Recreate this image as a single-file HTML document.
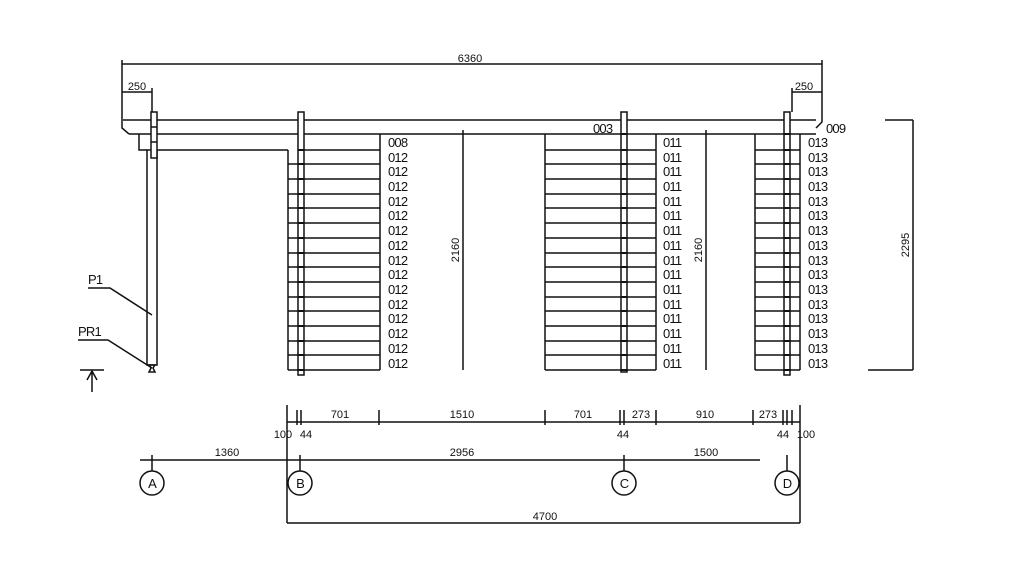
<!DOCTYPE html>
<html><head><meta charset="utf-8"><style>
html,body{margin:0;padding:0;background:#fff;}
svg{display:block}
text{font-family:"Liberation Sans",sans-serif;fill:#111;}
.s{font-size:11px}
.l{font-size:13px;letter-spacing:-0.8px}
</style></head><body>
<svg width="1024" height="576" viewBox="0 0 1024 576" xmlns="http://www.w3.org/2000/svg">
<g stroke="#111" stroke-width="1.5" fill="none">
<path d="M122 64H822M122 60V128L129 134M822 60V122L816 128"/>
<path d="M122 92H152M152 88V112M792 92H822M792 88V112"/>
<path d="M123 120H816M129 134H816M139 134V150H147M157 150H288"/>
<rect x="147" y="150" width="10" height="215"/>
<rect x="151" y="112" width="6" height="46" fill="#fff"/>
<path d="M151 127H157M151 142H157M149 365L155 365L153 368L155 372H149L151 368Z"/>
<path d="M288 150V370M380 134V370M303 150H380M288 164H380M288 179H380M288 194H380M288 208H380M288 223H380M288 238H380M288 253H380M288 267H380M288 282H380M288 297H380M288 311H380M288 326H380M288 341H380M288 355H380M288 370H380"/>
<rect x="298" y="112" width="6" height="263" fill="#fff"/>
<path d="M545 134V370M656 134V370M545 150H656M545 164H656M545 179H656M545 194H656M545 208H656M545 223H656M545 238H656M545 253H656M545 267H656M545 282H656M545 297H656M545 311H656M545 326H656M545 341H656M545 355H656M545 370H656"/>
<rect x="621" y="112" width="6" height="260" fill="#fff"/>
<path d="M755 134V370M800 134V370M755 150H800M755 164H800M755 179H800M755 194H800M755 208H800M755 223H800M755 238H800M755 253H800M755 267H800M755 282H800M755 297H800M755 311H800M755 326H800M755 341H800M755 355H800M755 370H800"/>
<rect x="784" y="112" width="6" height="263" fill="#fff"/>
<path stroke-width="2" d="M298 150H304M298 164H304M298 179H304M298 194H304M298 208H304M298 223H304M298 238H304M298 253H304M298 267H304M298 282H304M298 297H304M298 311H304M298 326H304M298 341H304M298 355H304M298 370H304
M621 134H627M621 150H627M621 164H627M621 179H627M621 194H627M621 208H627M621 223H627M621 238H627M621 253H627M621 267H627M621 282H627M621 297H627M621 311H627M621 326H627M621 341H627M621 355H627M621 370H627
M784 134H790M784 150H790M784 164H790M784 179H790M784 194H790M784 208H790M784 223H790M784 238H790M784 253H790M784 267H790M784 282H790M784 297H790M784 311H790M784 326H790M784 341H790M784 355H790M784 370H790"/>
<path d="M463 130V370M706 130V370M913 120V370M885 120H913M868 370H913"/>
<path d="M88 288H110L152 315M78 340H108L152 368M80 370H104M92 370V392M92 371L87 380M92 371L97 380"/>
<path d="M287 422H800M287 405V523M800 405V523"/>
<path d="M297 410V425M301 410V425M379 410V425M545 410V425M620 410V425M624 410V425M656 410V425M753 410V425M783 410V425M787 410V425M792 410V425"/>
<path d="M140 460H760M152 455V471M300 455V471M624 455V471M787 455V471"/>
<path d="M287 523H800"/>
<circle cx="152" cy="483" r="12"/><circle cx="300" cy="483" r="12"/><circle cx="624" cy="483" r="12"/><circle cx="787" cy="483" r="12"/>
</g>
<g class="s">
<text x="470" y="62" text-anchor="middle">6360</text>
<text x="137" y="90" text-anchor="middle">250</text>
<text x="804" y="90" text-anchor="middle">250</text>
<text x="593" y="133" class="l">003</text>
<text x="826" y="133" class="l">009</text>
<text x="459" y="250" text-anchor="middle" transform="rotate(-90 459 250)">2160</text>
<text x="702" y="250" text-anchor="middle" transform="rotate(-90 702 250)">2160</text>
<text x="909" y="245" text-anchor="middle" transform="rotate(-90 909 245)">2295</text>
<text x="88" y="284" class="l">P1</text>
<text x="78" y="336" class="l">PR1</text>
<text x="340" y="418" text-anchor="middle">701</text>
<text x="462" y="418" text-anchor="middle">1510</text>
<text x="583" y="418" text-anchor="middle">701</text>
<text x="641" y="418" text-anchor="middle">273</text>
<text x="705" y="418" text-anchor="middle">910</text>
<text x="768" y="418" text-anchor="middle">273</text>
<text x="283" y="438" text-anchor="middle">100</text>
<text x="306" y="438" text-anchor="middle">44</text>
<text x="623" y="438" text-anchor="middle">44</text>
<text x="783" y="438" text-anchor="middle">44</text>
<text x="806" y="438" text-anchor="middle">100</text>
<text x="227" y="456" text-anchor="middle">1360</text>
<text x="462" y="456" text-anchor="middle">2956</text>
<text x="706" y="456" text-anchor="middle">1500</text>
<text x="545" y="520" text-anchor="middle">4700</text>
</g>
<g class="l" text-anchor="middle">
<text x="152" y="488">A</text><text x="300" y="488">B</text><text x="624" y="488">C</text><text x="787" y="488">D</text>
</g>
<g class="l">
<text x="388" y="147">008</text><text x="388" y="162">012</text><text x="388" y="176">012</text><text x="388" y="191">012</text><text x="388" y="206">012</text><text x="388" y="220">012</text><text x="388" y="235">012</text><text x="388" y="250">012</text><text x="388" y="265">012</text><text x="388" y="279">012</text><text x="388" y="294">012</text><text x="388" y="309">012</text><text x="388" y="323">012</text><text x="388" y="338">012</text><text x="388" y="353">012</text><text x="388" y="368">012</text>
<text x="663" y="147">011</text><text x="663" y="162">011</text><text x="663" y="176">011</text><text x="663" y="191">011</text><text x="663" y="206">011</text><text x="663" y="220">011</text><text x="663" y="235">011</text><text x="663" y="250">011</text><text x="663" y="265">011</text><text x="663" y="279">011</text><text x="663" y="294">011</text><text x="663" y="309">011</text><text x="663" y="323">011</text><text x="663" y="338">011</text><text x="663" y="353">011</text><text x="663" y="368">011</text>
<text x="808" y="147">013</text><text x="808" y="162">013</text><text x="808" y="176">013</text><text x="808" y="191">013</text><text x="808" y="206">013</text><text x="808" y="220">013</text><text x="808" y="235">013</text><text x="808" y="250">013</text><text x="808" y="265">013</text><text x="808" y="279">013</text><text x="808" y="294">013</text><text x="808" y="309">013</text><text x="808" y="323">013</text><text x="808" y="338">013</text><text x="808" y="353">013</text><text x="808" y="368">013</text>
</g>
</svg>
</body></html>
